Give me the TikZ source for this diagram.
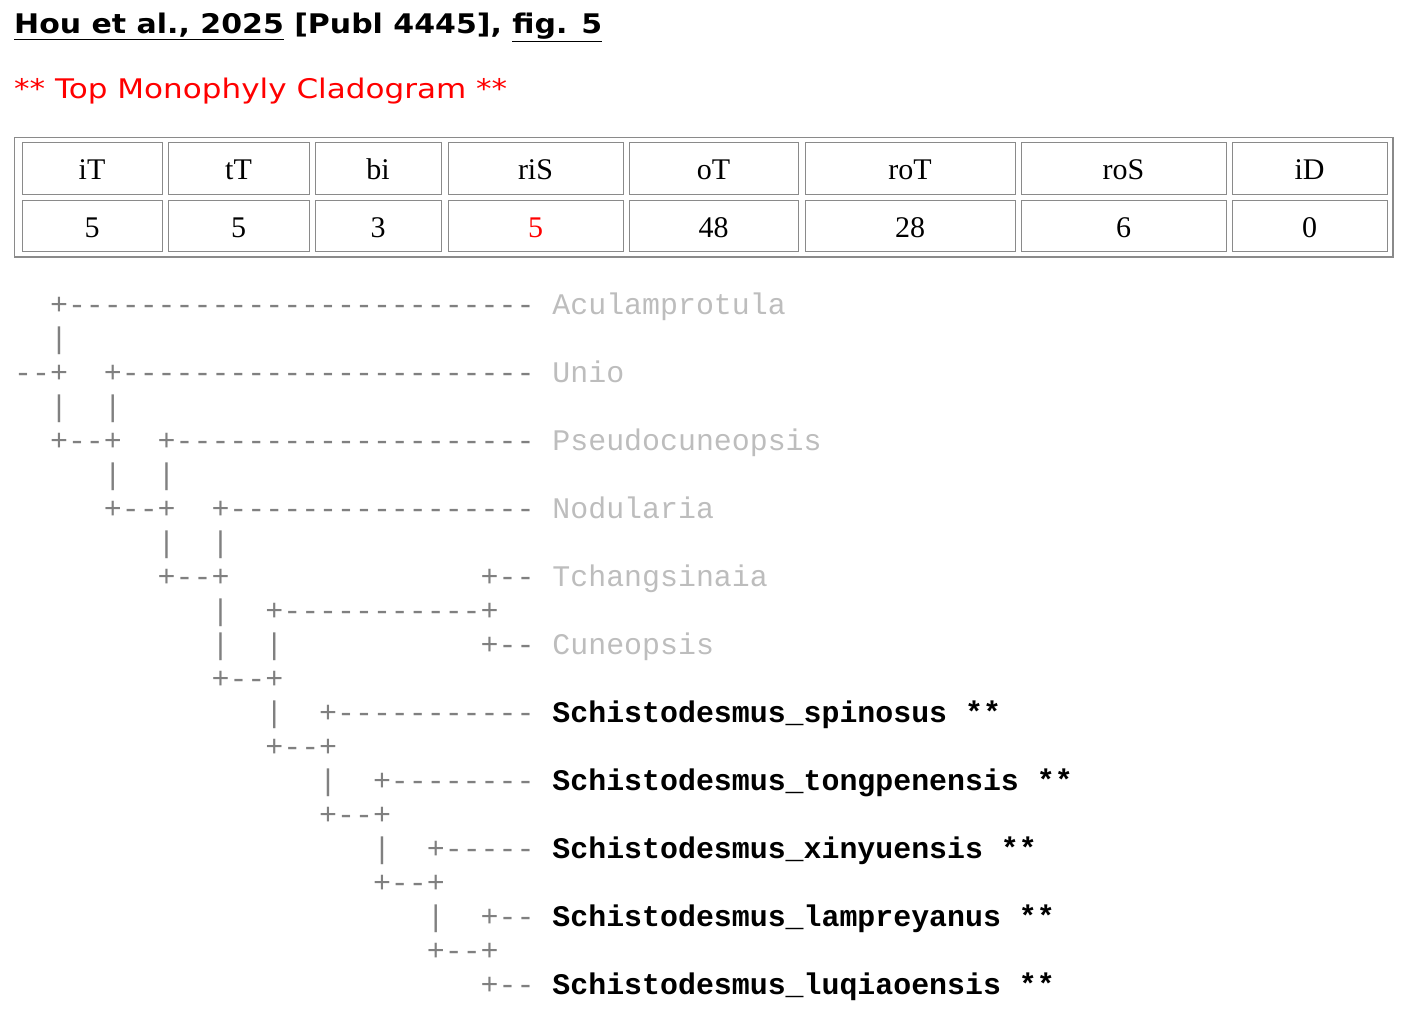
\documentclass[tikz,border=0pt]{standalone}
\usepackage{fontspec}
\setmainfont{Liberation Serif}
\newfontfamily\monof{Liberation Mono}
\newfontfamily\hdrf[FakeStretch=1.11]{DejaVu Sans}
\newfontfamily\ttlf[FakeStretch=1.15]{DejaVu Sans}
\begin{document}
\begin{tikzpicture}[x=1pt,y=-1pt,
  treeline/.style={anchor=base west,inner sep=0pt,text=treegray,font=\monof\fontsize{29.9}{30}\selectfont},
  cellbox/.style={draw=cellgray,line width=1pt},
  celltxt/.style={font=\fontsize{30}{30}\selectfont,inner sep=0pt}]
\definecolor{treegray}{HTML}{808080}
\definecolor{namegray}{HTML}{BDBDBD}
\definecolor{cellgray}{HTML}{8A8A8A}
\useasboundingbox (0,0) rectangle (1416,1022);
\node[anchor=base west,inner sep=0pt,font=\hdrf\bfseries\fontsize{27}{28}\selectfont] (hdr) at (14,34) {\underline{Hou et al., 2025} [Publ 4445], \underline{fig. 5}};
\node[anchor=base west,inner sep=0pt,text=red,font=\ttlf\fontsize{27}{28}\selectfont] (ttl) at (14,99) {** Top Monophyly Cladogram **};
\draw[cellgray,line width=1.2pt] (14.5,137.5) rectangle (1393,257);
\foreach \a/\b/\h/\v [count=\i] in {22/162/iT/5,168/309/tT/5,315/441/bi/3,448/623/riS/{\textcolor{red}{5}},629/798/oT/48,805/1015/roT/28,1021/1226/roS/6,1232/1387/iD/0}{
  \draw[cellbox] (\a,143) rectangle (\b,194);
  \draw[cellbox] (\a,200) rectangle (\b,251);
  \node[celltxt,anchor=base] (h\i) at ({(\a+\b)/2},179) {\h};
  \node[celltxt,anchor=base] (v\i) at ({(\a+\b)/2},237) {\v};
}
\newcommand\nm[1]{\textcolor{namegray}{#1}}
\newcommand\bn[1]{\textcolor{black}{\bfseries #1}}
\foreach \r/\t [count=\k] in {
 0/{~~+--------------------------~\nm{Aculamprotula}},
 1/{~~|},
 2/{--+~~+-----------------------~\nm{Unio}},
 3/{~~|~~|},
 4/{~~+--+~~+--------------------~\nm{Pseudocuneopsis}},
 5/{~~~~~|~~|},
 6/{~~~~~+--+~~+-----------------~\nm{Nodularia}},
 7/{~~~~~~~~|~~|},
 8/{~~~~~~~~+--+~~~~~~~~~~~~~~+--~\nm{Tchangsinaia}},
 9/{~~~~~~~~~~~|~~+-----------+},
 10/{~~~~~~~~~~~|~~|~~~~~~~~~~~+--~\nm{Cuneopsis}},
 11/{~~~~~~~~~~~+--+},
 12/{~~~~~~~~~~~~~~|~~+-----------~\bn{Schistodesmus\_spinosus~**}},
 13/{~~~~~~~~~~~~~~+--+},
 14/{~~~~~~~~~~~~~~~~~|~~+--------~\bn{Schistodesmus\_tongpenensis~**}},
 15/{~~~~~~~~~~~~~~~~~+--+},
 16/{~~~~~~~~~~~~~~~~~~~~|~~+-----~\bn{Schistodesmus\_xinyuensis~**}},
 17/{~~~~~~~~~~~~~~~~~~~~+--+},
 18/{~~~~~~~~~~~~~~~~~~~~~~~|~~+--~\bn{Schistodesmus\_lampreyanus~**}},
 19/{~~~~~~~~~~~~~~~~~~~~~~~+--+},
 20/{~~~~~~~~~~~~~~~~~~~~~~~~~~+--~\bn{Schistodesmus\_luqiaoensis~**}}}{
  \node[treeline] (row\k) at (14,{314+34*\r}) {\t};
}
\end{tikzpicture}
\end{document}
